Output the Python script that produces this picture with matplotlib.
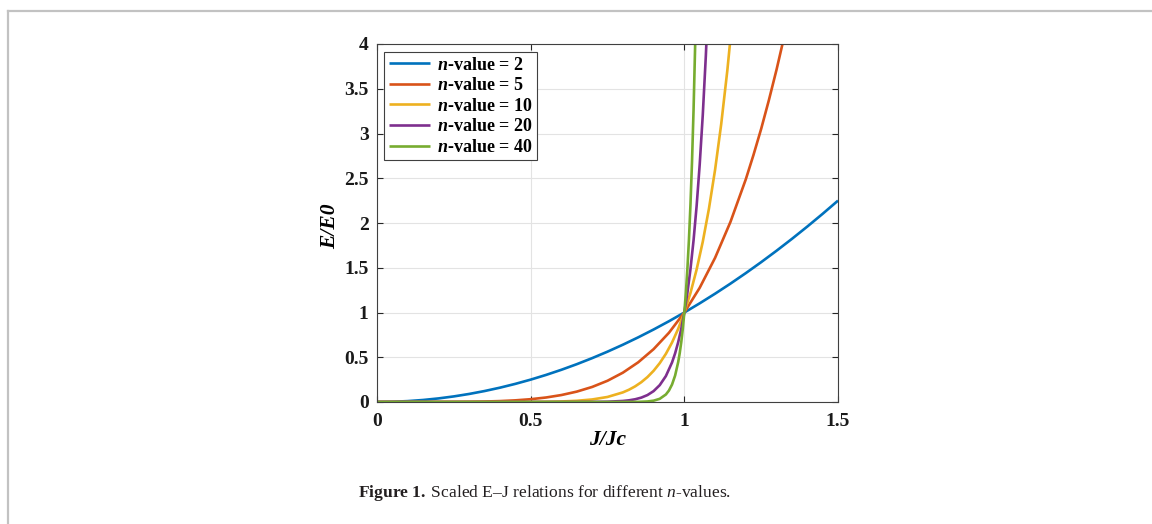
import matplotlib
matplotlib.use("Agg")
import matplotlib.pyplot as plt
from matplotlib.lines import Line2D

plt.rcParams["font.family"] = ["Liberation Serif", "DejaVu Serif"]
plt.rcParams["mathtext.fontset"] = "custom"
plt.rcParams["mathtext.rm"] = "Liberation Serif"
plt.rcParams["mathtext.it"] = "Liberation Serif:italic"
plt.rcParams["mathtext.bf"] = "Liberation Serif:bold"
plt.rcParams["mathtext.bfit"] = "Liberation Serif:italic:bold"

# scaled E-J curves, values read per n-value
n_values = [2, 5, 10, 20, 40]

j_n2 = [0, 0.05, 0.1, 0.15, 0.2, 0.25, 0.3, 0.35, 0.4, 0.45, 0.5, 0.55, 0.6, 0.65,
        0.7, 0.75, 0.8, 0.85, 0.9, 0.95, 1.0, 1.05, 1.1, 1.15, 1.2, 1.25, 1.3, 1.35,
        1.4, 1.45, 1.5]
e_n2 = [0, 0.0025, 0.01, 0.0225, 0.04, 0.0625, 0.09, 0.1225, 0.16, 0.2025, 0.25,
        0.3025, 0.36, 0.4225, 0.49, 0.5625, 0.64, 0.7225, 0.81, 0.9025, 1.0, 1.1025,
        1.21, 1.3225, 1.44, 1.5625, 1.69, 1.8225, 1.96, 2.1025, 2.25]

j_n5 = [0, 0.1, 0.2, 0.25, 0.3, 0.35, 0.4, 0.45, 0.5, 0.55, 0.6, 0.65, 0.7, 0.75,
        0.8, 0.85, 0.9, 0.95, 1.0, 1.05, 1.1, 1.15, 1.2, 1.225, 1.25, 1.275, 1.3,
        1.325, 1.35]
e_n5 = [0, 0.00001, 0.00032, 0.00098, 0.00243, 0.00525, 0.01024, 0.01845, 0.03125,
        0.0503, 0.07776, 0.116, 0.16807, 0.2373, 0.32768, 0.4437, 0.59049, 0.7738,
        1.0, 1.2763, 1.6105, 2.0114, 2.4883, 2.7605, 3.0518, 3.3714, 3.7129, 4.0837,
        4.484]

j_n10 = [0, 0.4, 0.5, 0.55, 0.6, 0.65, 0.7, 0.75, 0.8, 0.82, 0.84, 0.86, 0.88, 0.9,
         0.92, 0.94, 0.96, 0.98, 1.0, 1.02, 1.04, 1.06, 1.08, 1.1, 1.12, 1.14, 1.16]
e_n10 = [0, 0.0001, 0.00098, 0.00253, 0.00605, 0.01346, 0.02825, 0.0563, 0.1074,
         0.1374, 0.1749, 0.2213, 0.2785, 0.3487, 0.4344, 0.5386, 0.6648, 0.8171, 1.0,
         1.219, 1.4802, 1.7908, 2.1589, 2.5937, 3.1058, 3.7072, 4.4114]

j_n20 = [0, 0.6, 0.7, 0.75, 0.8, 0.82, 0.84, 0.86, 0.88, 0.9, 0.92, 0.94, 0.96, 0.97,
         0.98, 0.99, 1.0, 1.01, 1.02, 1.03, 1.04, 1.05, 1.06, 1.07, 1.08]
e_n20 = [0, 0.00004, 0.0008, 0.00317, 0.01153, 0.01888, 0.03059, 0.04897, 0.07756,
         0.1216, 0.1887, 0.2901, 0.442, 0.5438, 0.6676, 0.8179, 1.0, 1.2202, 1.4859,
         1.8061, 2.1911, 2.6533, 3.2071, 3.8697, 4.661]

j_n40 = [0, 0.8, 0.85, 0.88, 0.9, 0.92, 0.94, 0.95, 0.96, 0.97, 0.98, 0.985, 0.99,
         0.995, 1.0, 1.005, 1.01, 1.015, 1.02, 1.025, 1.03, 1.035, 1.04]
e_n40 = [0, 0.00013, 0.0015, 0.006, 0.01478, 0.0356, 0.0842, 0.1285, 0.1954, 0.2957,
         0.4457, 0.5463, 0.669, 0.8183, 1.0, 1.2208, 1.4889, 1.814, 2.208, 2.6851,
         3.262, 3.9592, 4.801]

curves = [(j_n2, e_n2), (j_n5, e_n5), (j_n10, e_n10), (j_n20, e_n20), (j_n40, e_n40)]
colors = ["#0072BD", "#D95319", "#EDB120", "#7E2F8E", "#77AC30"]

x_ticks = [0, 0.5, 1, 1.5]
x_tick_labels = ["0", "0.5", "1", "1.5"]
y_ticks = [0, 0.5, 1, 1.5, 2, 2.5, 3, 3.5, 4]
y_tick_labels = ["0", "0.5", "1", "1.5", "2", "2.5", "3", "3.5", "4"]

W, H = 1152, 524
fig = plt.figure(figsize=(W / 100, H / 100), dpi=100)
ax = fig.add_axes([377 / W, 1 - 402 / H, 461 / W, 358 / H])

for (j, e), n, c in zip(curves, n_values, colors):
    ax.plot(j, e, color=c, lw=1.9, label=r"$\mathbfit{n}$-value = %d" % n,
            solid_capstyle="butt")

ax.set_xlim(0, 1.5)
ax.set_ylim(0, 4)
ax.set_xticks(x_ticks)
ax.set_xticklabels(x_tick_labels)
ax.set_yticks(y_ticks)
ax.set_yticklabels(y_tick_labels)
for lab in ax.get_xticklabels() + ax.get_yticklabels():
    lab.set_fontweight("bold")
    lab.set_fontsize(14)
    lab.set_color("#1a1a1a")

ax.tick_params(direction="in", length=4, width=0.8, color="#262626",
               top=True, right=True)
ax.tick_params(axis="x", pad=8)
ax.tick_params(axis="y", pad=6)
ax.grid(True, color="#e3e3e3", lw=0.8)
ax.set_axisbelow(True)
for s in ax.spines.values():
    s.set_color("#404040")
    s.set_linewidth(0.8)

ax.set_xlabel("J/Jc", fontsize=15.5, fontweight="bold", fontstyle="italic")
ax.set_ylabel("E/E0", fontsize=15.5, fontweight="bold", fontstyle="italic")
ax.xaxis.set_label_coords(0.5, (402 - 440) / 358)
ax.yaxis.set_label_coords((330 - 377) / 461, 0.49)
ax.xaxis.label.set_verticalalignment("center")
ax.yaxis.label.set_verticalalignment("center")

leg = ax.legend(loc="upper left", bbox_to_anchor=((384 - 377) / 461, (402 - 52) / 358),
                borderaxespad=0, fancybox=False, framealpha=1,
                prop={"family": "Liberation Serif", "weight": "bold", "size": 13},
                handlelength=2.3, handletextpad=0.4, labelspacing=0.2,
                borderpad=0.25)
leg.get_frame().set_edgecolor("#404040")
leg.get_frame().set_linewidth(0.8)

fig.text(358 / W, 1 - 493 / H,
         r"$\mathbf{Figure\ 1.}\;$Scaled E–J relations for different $\mathit{n}$-values.",
         fontsize=12.6, color="#231f20", ha="left", va="center")

# page frame lines
fig.add_artist(Line2D([8 / W, 1], [1 - 10.7 / H, 1 - 10.7 / H], color="#c2c2c2", lw=1.6,
                      transform=fig.transFigure))
fig.add_artist(Line2D([8 / W, 8 / W], [0, 1 - 10.7 / H], color="#c2c2c2", lw=1.6,
                      transform=fig.transFigure))

fig.savefig("out.png", dpi=100)
